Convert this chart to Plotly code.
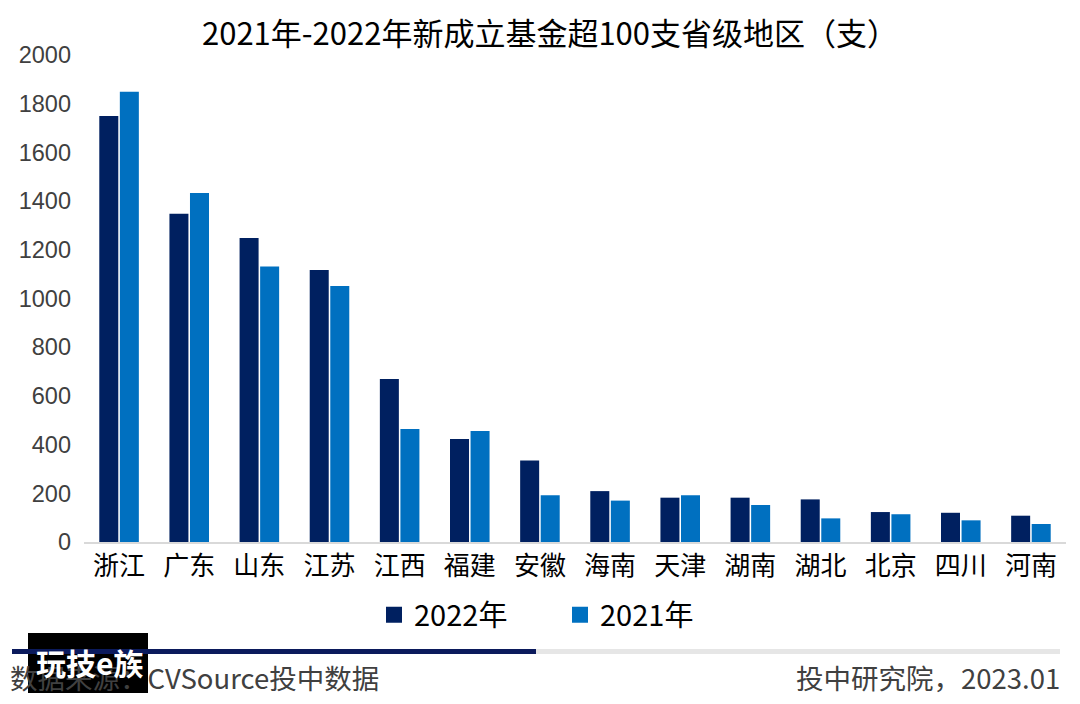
import plotly.graph_objects as go

categories = ["浙江", "广东", "山东", "江苏", "江西", "福建", "安徽", "海南", "天津", "湖南", "湖北", "北京", "四川", "河南"]
values_2022 = [1750, 1348, 1248, 1117, 669, 423, 335, 209, 182, 182, 175, 123, 120, 108]
values_2021 = [1849, 1433, 1131, 1051, 464, 456, 192, 170, 192, 152, 97, 114, 89, 74]
y_ticks = [0, 200, 400, 600, 800, 1000, 1200, 1400, 1600, 1800, 2000]
series_names = ["2022年", "2021年"]
series_colors = ["#002060", "#0070C0"]

FONT = "Noto Sans CJK SC"
OFF = 8  # page body margin
W, H = 1064, 688
L, R, T, B = 76, 6, 47, 154

fig = go.Figure()
for name, vals, col in zip(series_names, [values_2022, values_2021], series_colors):
    fig.add_trace(go.Bar(name=name, x=categories, y=vals, showlegend=False,
                         marker=dict(color=col, line=dict(width=0))))
# legend proxies with larger square markers
for name, col in zip(series_names, series_colors):
    fig.add_trace(go.Scatter(name=name, x=[None], y=[None], mode="markers",
                             marker=dict(symbol="square", size=16, color=col), showlegend=True))

pw = W - L - R
ph = H - T - B

def px(x):
    return (x - OFF - L) / pw

def py(y):
    return (H - B - (y - OFF)) / ph

shapes = [
    dict(type="rect", xref="paper", yref="paper", x0=px(28), x1=px(148), y0=py(693), y1=py(633),
         fillcolor="black", line=dict(width=0), layer="above"),
    dict(type="rect", xref="paper", yref="paper", x0=px(12), x1=px(536), y0=py(654), y1=py(649),
         fillcolor="#0B1A5C", line=dict(width=0), layer="above"),
    dict(type="rect", xref="paper", yref="paper", x0=px(536), x1=px(1060), y0=py(654), y1=py(649),
         fillcolor="#E6E6E6", line=dict(width=0), layer="above"),
]

annotations = [
    dict(text="2021年-2022年新成立基金超100支省级地区（支）", xref="paper", yref="paper",
         x=px(550), y=py(32), xanchor="center", yanchor="middle", showarrow=False,
         font=dict(family=FONT, size=31, color="#000000")),
    dict(text="数据来源：CVSource投中数据", xref="paper", yref="paper",
         x=px(8), y=py(677), xanchor="left", yanchor="middle", showarrow=False,
         font=dict(family=FONT, size=27.5, color="#404040")),
    dict(text="投中研究院，2023.01", xref="paper", yref="paper",
         x=px(1062), y=py(677), xanchor="right", yanchor="middle", showarrow=False,
         font=dict(family=FONT, size=27.5, color="#404040")),
    dict(text="<b>玩技e族</b>", xref="paper", yref="paper",
         x=px(89), y=py(662), xanchor="center", yanchor="middle", showarrow=False,
         font=dict(family=FONT, size=30, color="#FFFFFF")),
]

fig.update_layout(
    width=W, height=H,
    margin=dict(l=L, r=R, t=T, b=B),
    paper_bgcolor="white", plot_bgcolor="white",
    barmode="group", bargap=0.414, bargroupgap=0.075,
    font=dict(family=FONT),
    showlegend=True,
    legend=dict(orientation="h", x=px(560), xanchor="center", y=py(615), yanchor="middle",
                font=dict(family=FONT, size=29, color="#000000"), itemwidth=30,
                traceorder="normal", entrywidth=141),
    xaxis=dict(showgrid=False, showline=True, linecolor="#D9D9D9", linewidth=1.5,
               ticks="", tickfont=dict(family=FONT, size=26, color="#000000")),
    yaxis=dict(range=[0, 2000], tickvals=y_ticks, showgrid=False, zeroline=False, showline=False,
               ticks="", tickfont=dict(family="Liberation Sans", size=23.5, color="#404040"), ticklabelstandoff=12),
    shapes=shapes,
    annotations=annotations,
)

fig.write_html("out.html")
